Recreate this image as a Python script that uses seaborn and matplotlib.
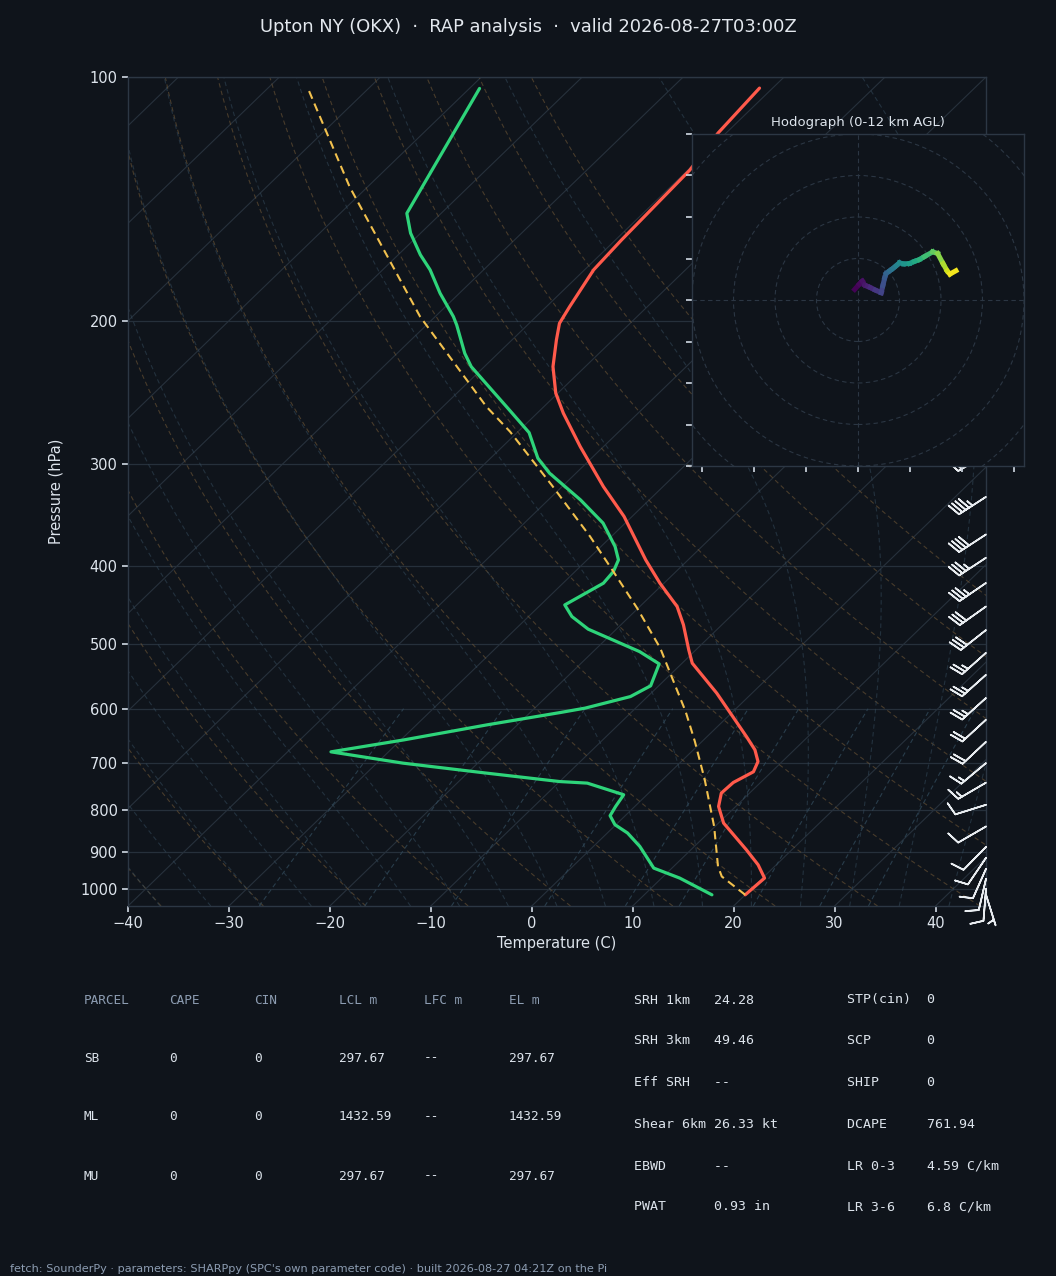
import numpy as np
import matplotlib
matplotlib.use('Agg')
import matplotlib.pyplot as plt
import seaborn as sns
from matplotlib.transforms import Affine2D
from matplotlib.collections import LineCollection
from matplotlib.patches import Circle
from matplotlib.ticker import FixedLocator, MultipleLocator, NullLocator, FormatStrFormatter

# --- sounding (hPa, degC) ---
temp_p = [1017.2, 970.1, 934.2, 895.3, 829.9, 791.7, 762.2, 739.7, 717.6, 697.0, 674.3, 649.4,
          574.1, 527.3, 507.9, 473.0, 449.1, 420.3, 393.4, 347.8, 319.6, 285.3, 259.5, 245.2,
          227.4, 210.8, 201.1, 191.8, 172.8, 158.8, 130.2, 117.2, 103.2]
temp_c = [20.0, 20.2, 18.2, 15.5, 10.5, 8.3, 7.2, 7.3, 8.2, 7.6, 6.1, 3.9,
          -3.5, -9.0, -10.7, -13.8, -16.3, -20.4, -24.2, -30.8, -35.9, -42.3, -47.4, -50.2,
          -53.2, -55.6, -57.0, -57.7, -59.1, -59.4, -59.8, -60.8, -61.3]

dewp_p = [1017.2, 970.1, 943.0, 886.8, 853.6, 833.7, 812.7, 791.7, 765.9, 741.0, 737.7, 720.3,
          700.2, 678.1, 655.5, 628.1, 606.5, 599.0, 579.7, 562.3, 528.4, 510.3, 478.8, 462.0,
          447.0, 420.3, 406.7, 393.4, 378.8, 354.4, 331.9, 307.7, 294.9, 274.2, 255.9, 227.4,
          219.0, 202.1, 197.3, 184.7, 172.8, 165.6, 155.7, 147.2, 103.3]
dewp_c = [16.7, 11.8, 8.2, 4.6, 2.0, -0.1, -1.5, -1.9, -2.3, -7.1, -10.0, -18.1,
          -27.4, -35.7, -29.7, -23.0, -17.0, -15.0, -11.7, -10.8, -12.2, -15.4, -22.8, -25.7,
          -27.6, -26.0, -26.2, -26.9, -28.6, -32.2, -36.8, -42.6, -45.3, -48.8, -53.4, -61.3,
          -63.3, -67.0, -68.2, -71.9, -75.3, -77.8, -81.0, -83.4, -89.0]

parcel_p = [1017.2, 965.7, 938.7, 837.7, 734.1, 658.6, 604.8, 560.7, 505.4, 451.1, 406.7,
            368.2, 318.1, 273.4, 254.7, 197.3, 136.5, 103.5]
parcel_c = [20.0, 15.8, 14.4, 9.9, 4.2, -0.7, -4.7, -8.5, -13.7, -20.1, -26.2,
            -32.1, -41.2, -50.8, -55.7, -71.5, -91.8, -105.9]

# --- winds (hPa, km AGL, kt) ---
wind_p = [1017, 1000, 972, 945, 916, 888, 838, 788, 740, 700, 659, 619, 582, 545, 512,
          480, 449, 420, 391, 366, 329, 292, 262, 236, 212, 192, 174, 158, 143, 130]
wind_z = [0.0, 0.15, 0.40, 0.65, 0.92, 1.18, 1.66, 2.16, 2.66, 3.10, 3.58, 4.07, 4.55, 5.05, 5.52,
          6.0, 6.5, 6.98, 7.48, 7.95, 8.7, 9.5, 10.2, 10.85, 11.5, 12.1, 12.7, 13.3, 13.9, 14.5]
wind_u = [-1.6, 0.6, 2.1, 3.2, 4.5, 5.9, 8.3, 11.2, 12.0, 12.9, 13.6, 15.3, 16.8, 18.5, 20.0,
          22.0, 24.8, 27.2, 29.6, 32.0, 36.0, 38.4, 41.0, 43.0, 44.3, 47.2, 45.0, 41.0, 36.0, 31.0]
wind_v = [5.1, 7.6, 9.1, 7.2, 6.6, 6.0, 4.8, 3.5, 7.0, 10.8, 12.8, 14.1, 15.2, 16.6, 17.9,
          17.4, 17.6, 18.6, 19.5, 20.9, 23.2, 22.4, 17.5, 14.0, 12.5, 14.1, 12.0, 10.0, 8.0, 6.0]

# --- parameter table ---
parcel_names = ['SB', 'ML', 'MU']
parcel_cape = ['0', '0', '0']
parcel_cin = ['0', '0', '0']
parcel_lcl = ['297.67', '1432.59', '297.67']
parcel_lfc = ['--', '--', '--']
parcel_el = ['297.67', '1432.59', '297.67']
table_cols = ['PARCEL', 'CAPE', 'CIN', 'LCL m', 'LFC m', 'EL m']

kin_labels = ['SRH 1km', 'SRH 3km', 'Eff SRH', 'Shear 6km', 'EBWD', 'PWAT']
kin_values = ['24.28', '49.46', '--', '26.33 kt', '--', '0.93 in']
idx_labels = ['STP(cin)', 'SCP', 'SHIP', 'DCAPE', 'LR 0-3', 'LR 3-6']
idx_values = ['0', '0', '0', '761.94', '4.59 C/km', '6.8 C/km']

title = 'Upton NY (OKX)  \u00b7  RAP analysis  \u00b7  valid 2026-08-27T03:00Z'
footer = ("fetch: SounderPy \u00b7 parameters: SHARPpy (SPC's own parameter code) \u00b7 "
          "built 2026-08-27 04:21Z on the Pi")

BG = '#0f141b'
FG = '#dde4ec'
DIM = '#8d9db2'
EDGE = '#2c3744'

sns.set_theme(style='dark')
plt.rcParams.update({
    'figure.facecolor': BG, 'axes.facecolor': BG, 'savefig.facecolor': BG,
    'axes.edgecolor': EDGE, 'axes.linewidth': 1.0,
    'text.color': FG, 'axes.labelcolor': FG,
    'xtick.color': '#c9d2dc', 'ytick.color': '#c9d2dc',
    'xtick.labelcolor': FG, 'ytick.labelcolor': FG,
    'xtick.bottom': True, 'ytick.left': True,
    'xtick.major.size': 4, 'ytick.major.size': 4,
    'font.family': ['DejaVu Sans'],
})

fig = plt.figure(figsize=(10.56, 12.76), dpi=100)
ax = fig.add_axes([128 / 1056, 1 - 906 / 1276, 858 / 1056, 829 / 1276])
ax.set_yscale('log')
ax.set_ylim(1050, 100)
ax.set_xlim(-40, 45)
skew = ax.transScale + ax.transLimits + Affine2D().skew_deg(45, 0) + ax.transAxes

# background thermodynamic lines
p_line = np.linspace(1050, 100, 200)
for t in range(-130, 50, 10):
    ax.plot([t, t], [1050, 100], transform=skew, color='#27313c', lw=0.8, zorder=1)

for t0 in range(-40, 96, 10):
    td = (t0 + 273.15) * (p_line / 1000.0) ** 0.2857 - 273.15
    ax.plot(td, p_line, transform=skew, color='#6e5636', lw=0.8, ls=(0, (4, 3)), alpha=0.6, zorder=1)

Rd, Cp, Lv, eps = 287.04, 1005.7, 2.501e6, 0.622


def dtdp(T, p):
    es = 6.112 * np.exp(17.67 * (T - 273.15) / (T - 29.65))
    rs = eps * es / (p - es)
    return (Rd * T + Lv * rs) / (Cp + Lv * Lv * rs * eps / (Rd * T * T)) / p


def moist(t0, p_end, step):
    T = np.array(t0, dtype=float) + 273.15
    ps = np.arange(1000.0, p_end, step)
    out = [T.copy()]
    for p in ps[:-1]:
        k1 = dtdp(T, p)
        k2 = dtdp(T + k1 * step, p + step)
        T = T + 0.5 * (k1 + k2) * step
        out.append(T.copy())
    return ps, np.array(out) - 273.15


m_t0 = np.arange(-40, 46, 5)
p_up, t_up = moist(m_t0, 99.0, -1.0)
p_dn, t_dn = moist(m_t0, 1051.0, 1.0)
p_m = np.concatenate([p_dn[::-1], p_up[1:]])
t_m = np.concatenate([t_dn[::-1], t_up[1:]])
for i in range(len(m_t0)):
    ax.plot(t_m[:, i], p_m, transform=skew, color='#33495a', lw=0.8, ls=(0, (4, 3)), alpha=0.55, zorder=1)

mix_ratios = [0.0004, 0.001, 0.002, 0.004, 0.007, 0.01, 0.016, 0.024, 0.032]
p_mix = np.linspace(1050, 600, 50)
for w in mix_ratios:
    e = p_mix * w / (eps + w)
    lg = np.log(e / 6.112)
    ax.plot(243.5 * lg / (17.67 - lg), p_mix, transform=skew, color='#2f4757', lw=0.8,
            ls=(0, (4, 3)), alpha=0.8, zorder=1)

# profiles
sns.lineplot(x=temp_c, y=temp_p, sort=False, estimator=None, ax=ax, color='#ff5a4b',
             lw=2.3, transform=skew, zorder=4)
sns.lineplot(x=dewp_c, y=dewp_p, sort=False, estimator=None, ax=ax, color='#2ed47a',
             lw=2.3, transform=skew, zorder=4)
sns.lineplot(x=parcel_c, y=parcel_p, sort=False, estimator=None, ax=ax, color='#f2c14e',
             lw=1.5, ls=(0, (4, 2.5)), transform=skew, zorder=4)
ax.set_xlim(-40, 45)
ax.set_ylim(1050, 100)

ax.barbs(np.ones(len(wind_p)), wind_p, wind_u, wind_v, transform=ax.get_yaxis_transform(),
         length=6.8, color='#e8ecf0', linewidth=1.2, clip_on=False, zorder=5)

ax.yaxis.set_major_locator(FixedLocator([100, 200, 300, 400, 500, 600, 700, 800, 900, 1000]))
ax.yaxis.set_major_formatter(FormatStrFormatter('%d'))
ax.yaxis.set_minor_locator(NullLocator())
ax.xaxis.set_major_locator(MultipleLocator(10))
ax.yaxis.grid(True, color='#26303b', lw=0.9)
ax.xaxis.grid(False)
ax.tick_params(labelsize=10.5)
for s in ax.spines.values():
    s.set_color(EDGE)
ax.set_xlabel('Temperature (C)', fontsize=10.5)
ax.set_ylabel('Pressure (hPa)', fontsize=10.5)
ax.xaxis.set_label_coords(0.5, -0.036)
ax.yaxis.set_label_coords(-0.075, 0.5)

# hodograph
hodo = fig.add_axes([692 / 1056, 1 - 466 / 1276, 332 / 1056, 332 / 1276])
hodo.set_facecolor(BG)
hodo.set_xlim(-80, 80)
hodo.set_ylim(-80, 80)
hodo.xaxis.set_major_locator(MultipleLocator(25))
hodo.yaxis.set_major_locator(MultipleLocator(20))
hodo.tick_params(labelbottom=False, labelleft=False, length=4)
for s in hodo.spines.values():
    s.set_color(EDGE)
for r in range(20, 101, 20):
    hodo.add_patch(Circle((0, 0), r, fill=False, ls=(0, (4, 3)), lw=0.8, ec='#2b3643'))
hodo.axhline(0, color='#2b3643', lw=0.8, ls=(0, (4, 3)))
hodo.axvline(0, color='#2b3643', lw=0.8, ls=(0, (4, 3)))
zz = np.array(wind_z)
keep = zz <= 12.1
pts = np.column_stack([np.array(wind_u)[keep], np.array(wind_v)[keep]])
segs = np.stack([pts[:-1], pts[1:]], axis=1)
lc = LineCollection(segs, cmap='viridis', norm=plt.Normalize(0, 12), linewidths=3.6,
                    capstyle='projecting', zorder=3)
lc.set_array(0.5 * (zz[keep][:-1] + zz[keep][1:]))
hodo.add_collection(lc)
hodo.set_title('Hodograph (0-12 km AGL)', fontsize=9.5, color=FG, pad=6)

# title / footer
fig.text(0.5, 1 - 27 / 1276, title, ha='center', va='center', fontsize=12.9, color='#e3e8ee')
fig.text(10 / 1056, 1 - 1269 / 1276, footer, ha='left', va='center', fontsize=8.1, color=DIM)

# parcel table
col_x = [84, 169, 254, 339, 424, 509]
row_y = [1000, 1058, 1117, 1176]
mono = 'DejaVu Sans Mono'
for cx, name in zip(col_x, table_cols):
    fig.text(cx / 1056, 1 - row_y[0] / 1276, name, ha='left', va='center', fontsize=9.2,
             family=mono, color=DIM)
for i, vals in enumerate(zip(parcel_names, parcel_cape, parcel_cin, parcel_lcl, parcel_lfc, parcel_el)):
    for cx, v in zip(col_x, vals):
        fig.text(cx / 1056, 1 - row_y[i + 1] / 1276, v, ha='left', va='center', fontsize=9.2,
                 family=mono, color=FG)

# kinematic / index block
kin_y = [1000, 1041, 1083, 1124, 1166, 1207]
for y, lab, val in zip(kin_y, kin_labels, kin_values):
    fig.text(634 / 1056, 1 - y / 1276, f'{lab:<10}{val}', ha='left', va='center', fontsize=9.5,
             family=mono, color=FG)
for y, lab, val in zip(kin_y, idx_labels, idx_values):
    fig.text(847 / 1056, 1 - y / 1276, f'{lab:<10}{val}', ha='left', va='center', fontsize=9.5,
             family=mono, color=FG)

fig.savefig('out.png', dpi=100, facecolor=BG)
